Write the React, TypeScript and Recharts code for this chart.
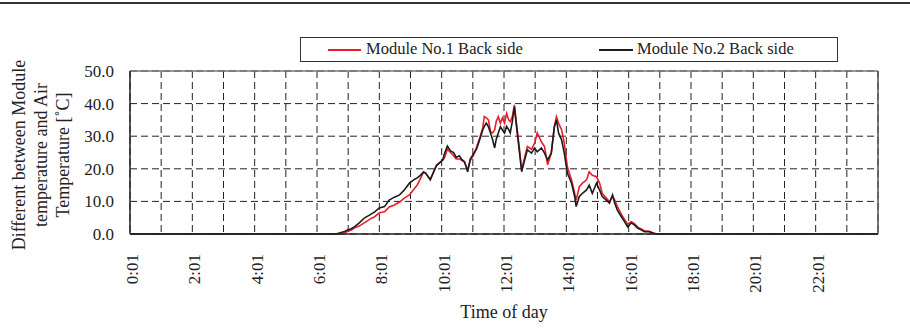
import {
  LineChart,
  Line,
  XAxis,
  YAxis,
  CartesianGrid,
  ReferenceLine,
  Label,
} from "recharts";

// minutes since midnight
const minutes = [
  1, 397, 404, 414, 420, 427, 433, 443, 452, 462, 472, 481, 491, 500, 510,
  520, 529, 539, 549, 554, 560, 566, 570, 579, 591, 603, 606, 612, 618, 624,
  629, 635, 639, 645, 651, 656, 662, 668, 674, 680, 683, 687, 691, 695, 699,
  703, 706, 710, 714, 718, 722, 726, 730, 733, 737, 741, 745, 751, 755, 760,
  766, 774, 780, 785, 793, 799, 805, 812, 818, 822, 826, 832, 837, 843, 851,
  857, 860, 866, 872, 880, 885, 891, 899, 905, 910, 918, 924, 930, 934, 939,
  947, 953, 959, 966, 972, 978, 986, 991, 1001, 1007, 1014, 1020, 1441,
];

// Module No.1 Back side
const module1 = [
  0, 0, 0, 0.3, 0.8, 1.2, 1.8, 2.5, 3.4, 4.5, 5.3, 6.5, 6.8, 8.3, 8.9,
  9.8, 11.0, 12.0, 14.0, 15.0, 17.0, 19.0, 18.7, 16.8, 21.0, 22.7, 23.2, 26.0, 25.0, 24.0,
  23.0, 23.0, 22.7, 22.0, 19.6, 22.5, 24.0, 26.5, 29.4, 32.5, 36.0, 35.6, 35.0, 31.4, 31.0,
  31.9, 34.5, 36.0, 34.0, 35.6, 34.0, 37.0, 35.0, 34.5, 36.0, 39.6, 34.0, 25.8, 19.6, 23.0,
  26.8, 26.0, 27.9, 31.0, 28.3, 26.8, 21.2, 24.8, 32.9, 36.0, 34.0, 31.9, 27.9, 20.6, 16.6,
  12.5, 10.4, 14.5, 15.6, 16.6, 19.1, 18.0, 17.6, 15.6, 12.5, 11.0, 9.9, 11.5, 10.5, 8.5,
  6.0, 4.5, 3.0, 3.8, 3.2, 2.2, 1.5, 1.0, 0.8, 0.4, 0.1, 0, 0,
];

// Module No.2 Back side
const module2 = [
  0, 0, 0.3, 0.8, 1.2, 1.6, 2.2, 3.5, 4.9, 5.8, 6.8, 8.0, 8.4, 10.4, 11.3,
  12.0, 13.5, 15.6, 16.8, 17.2, 18.0, 19.0, 18.7, 16.6, 21.0, 22.7, 24.5, 27.0, 25.5, 25.0,
  23.5, 24.0, 23.0, 22.2, 19.1, 23.0, 24.5, 26.0, 28.8, 31.9, 33.0, 34.0, 32.9, 31.0, 29.0,
  26.4, 29.0, 31.0, 32.9, 31.9, 31.0, 33.0, 32.0, 31.0, 34.5, 39.0, 33.0, 24.8, 19.1, 22.2,
  25.8, 24.8, 26.4, 25.2, 26.4, 24.8, 22.7, 24.8, 33.0, 35.0, 31.0, 28.8, 24.8, 18.7, 15.6,
  11.5, 8.4, 11.5, 12.5, 13.5, 15.0, 12.5, 15.6, 13.5, 11.5, 10.4, 9.5, 12.0, 9.5, 7.4,
  5.3, 3.8, 2.2, 3.4, 2.8, 1.8, 1.2, 0.7, 0.7, 0.3, 0, 0, 0,
];

const yTicks = [0, 10, 20, 30, 40, 50];
const hourTicks = [
  1, 61, 121, 181, 241, 301, 361, 421, 481, 541, 601, 661, 721, 781, 841,
  901, 961, 1021, 1081, 1141, 1201, 1261, 1321, 1381,
];
const hourLabels = [
  "0:01", "", "2:01", "", "4:01", "", "6:01", "", "8:01", "", "10:01", "",
  "12:01", "", "14:01", "", "16:01", "", "18:01", "", "20:01", "", "22:01", "",
];

const data = minutes.map((m, i) => ({
  minute: m,
  m1: module1[i],
  m2: module2[i],
}));

const FONT = "'Liberation Serif', 'Times New Roman', serif";
const RED = "#e8202a";
const BLACK = "#1c1c1c";

function XTick(props: any) {
  const { x, y, payload } = props;
  const label = hourLabels[hourTicks.indexOf(payload.value)];
  if (!label) return null;
  const bx = x + 8;
  const by = y + 12;
  return (
    <text
      x={bx}
      y={by}
      transform={`rotate(-90 ${bx} ${by})`}
      textAnchor="end"
      fontSize={17}
      fontFamily={FONT}
      fill="#222"
    >
      {label}
    </text>
  );
}

function YTick(props: any) {
  const { x, y, payload } = props;
  return (
    <text
      x={x}
      y={y}
      dy="0.35em"
      textAnchor="end"
      fontSize={17}
      fontFamily={FONT}
      fill="#222"
    >
      {payload.value.toFixed(1)}
    </text>
  );
}

function YTitle() {
  const lines = ["Different between Module", "temperature and Air", "Temperature [\u02DAC]"];
  const base = [25, 47, 69];
  return (
    <g>
      {lines.map((t, i) => (
        <text
          key={i}
          x={base[i]}
          y={155}
          transform={`rotate(-90 ${base[i]} 155)`}
          textAnchor="middle"
          fontSize={18}
          fontFamily={FONT}
          fill="#222"
        >
          {t}
        </text>
      ))}
    </g>
  );
}

export default function App() {
  return (
    <div
      style={{
        position: "absolute",
        left: 0,
        top: 0,
        width: 910,
        height: 334,
        background: "#fff",
        overflow: "hidden",
        fontFamily: FONT,
      }}
    >
      <div
        style={{
          position: "absolute",
          left: 0,
          top: 2,
          width: 910,
          height: 2,
          background: "#333",
        }}
      />
      <LineChart
        width={910}
        height={334}
        data={data}
        margin={{ top: 71, right: 32, bottom: 40, left: 70 }}
      >
        <CartesianGrid stroke="#222" strokeDasharray="7 4" strokeWidth={1} />
        <XAxis
          dataKey="minute"
          type="number"
          domain={[1, 1441]}
          ticks={hourTicks}
          interval={0}
          height={60}
          tickLine={false}
          tick={<XTick />}
          axisLine={{ stroke: "#222", strokeWidth: 1.5 }}
        >
          <Label
            value="Time of day"
            position="insideBottom"
            offset={0}
            content={() => (
              <text
                x={504}
                y={318}
                textAnchor="middle"
                fontSize={18}
                fontFamily={FONT}
                fill="#222"
              >
                Time of day
              </text>
            )}
          />
        </XAxis>
        <YAxis
          domain={[0, 50]}
          ticks={yTicks}
          interval={0}
          width={60}
          tickLine={false}
          tickSize={6}
          tickMargin={10}
          tick={<YTick />}
          axisLine={{ stroke: "#222", strokeWidth: 1.5 }}
        >
          <Label content={() => <YTitle />} />
        </YAxis>
        <ReferenceLine y={50} stroke="#777" strokeWidth={1.5} />
        <ReferenceLine x={1441} stroke="#555" strokeWidth={1.5} />
        <Line
          type="linear"
          dataKey="m1"
          stroke={RED}
          strokeWidth={1.6}
          dot={false}
          isAnimationActive={false}
        />
        <Line
          type="linear"
          dataKey="m2"
          stroke={BLACK}
          strokeWidth={1.6}
          dot={false}
          isAnimationActive={false}
        />
      </LineChart>
      <div
        style={{
          position: "absolute",
          left: 300,
          top: 37,
          width: 536,
          height: 23,
          border: "1px solid #333",
          fontSize: 16.5,
          color: "#222",
        }}
      >
        <div
          style={{
            position: "absolute",
            left: 27,
            top: 11,
            width: 33,
            height: 2,
            background: RED,
          }}
        />
        <span style={{ position: "absolute", left: 65, top: 1, whiteSpace: "nowrap" }}>
          Module No.1 Back side
        </span>
        <div
          style={{
            position: "absolute",
            left: 298,
            top: 11,
            width: 34,
            height: 2,
            background: BLACK,
          }}
        />
        <span style={{ position: "absolute", left: 336, top: 1, whiteSpace: "nowrap" }}>
          Module No.2 Back side
        </span>
      </div>
    </div>
  );
}
